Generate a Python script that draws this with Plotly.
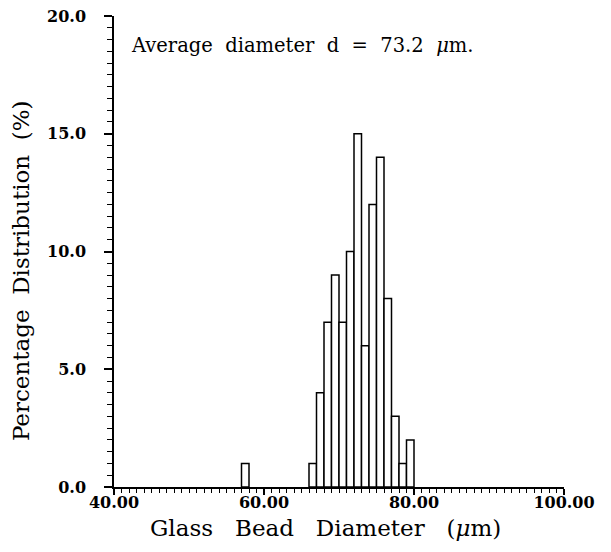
import plotly.graph_objects as go

# Bin right-edge diameters (um) and percentage of beads in each 1-um bin
diameter = [58, 67, 68, 69, 70, 71, 72, 73, 74, 75, 76, 77, 78, 79, 80]
percent = [1, 1, 4, 7, 9, 7, 10, 15, 6, 12, 14, 8, 3, 1, 2]

x_ticks = [40, 60, 80, 100]
x_tick_labels = ["40.00", "60.00", "80.00", "100.00"]
y_ticks = [0, 5, 10, 15, 20]
y_tick_labels = ["0.0", "5.0", "10.0", "15.0", "20.0"]

NB = "\u00a0"
FONT = "DejaVu Serif"

fig = go.Figure()
fig.add_trace(go.Bar(
    x=diameter, y=percent, width=1, offset=-1,
    marker=dict(color="white", line=dict(color="black", width=1.5)),
))

fig.update_layout(
    width=611, height=552,
    margin=dict(l=106, r=55, t=8, b=73),
    plot_bgcolor="white", paper_bgcolor="white",
    showlegend=False,
    font=dict(family=FONT, color="black"),
)
fig.update_xaxes(
    range=[40, 100], showgrid=False, zeroline=False, automargin=False,
    showline=True, linecolor="black", linewidth=1.5,
    tickmode="array", tickvals=x_ticks, ticktext=x_tick_labels,
    ticks="outside", ticklen=6, tickwidth=1.5, tickcolor="black",
    minor=dict(dtick=1, ticks="outside", ticklen=4, tickwidth=1, tickcolor="black"),
    tickfont=dict(family=FONT, size=16, weight="bold"),
    ticklabeloverflow="allow", ticklabelstandoff=-6,
)
fig.update_yaxes(
    range=[0, 20], showgrid=False, zeroline=False, automargin=False,
    showline=True, linecolor="black", linewidth=1.5,
    tickmode="array", tickvals=y_ticks, ticktext=y_tick_labels,
    ticks="outside", ticklen=8, tickwidth=1.5, tickcolor="black",
    minor=dict(dtick=0.5, ticks="outside", ticklen=5, tickwidth=1, tickcolor="black"),
    tickfont=dict(family=FONT, size=16, weight="bold"),
    ticklabeloverflow="allow", ticklabelstandoff=15,
)
# axis titles
fig.add_annotation(
    xref="paper", yref="paper", x=0.469, y=-0.087, xanchor="center", yanchor="middle",
    text=f"Glass{NB*3}Bead{NB*3}Diameter{NB*3}(<i>μ</i>m)",
    showarrow=False, font=dict(family=FONT, size=23),
)
fig.add_annotation(
    xref="paper", yref="paper", x=-0.206, y=0.459, xanchor="center", yanchor="middle",
    text=f"Percentage{NB*2}Distribution{NB*2}(%)", textangle=-90,
    showarrow=False, font=dict(family=FONT, size=23),
)
fig.add_annotation(
    xref="paper", yref="paper", x=0.033, y=0.938, xanchor="left", yanchor="middle",
    text=f"Average{NB*2}diameter{NB*2}d{NB*2}={NB*2}73.2{NB*2}<i>μ</i>m.",
    showarrow=False, font=dict(family=FONT, size=19.5),
)

fig.write_html("out.html")
